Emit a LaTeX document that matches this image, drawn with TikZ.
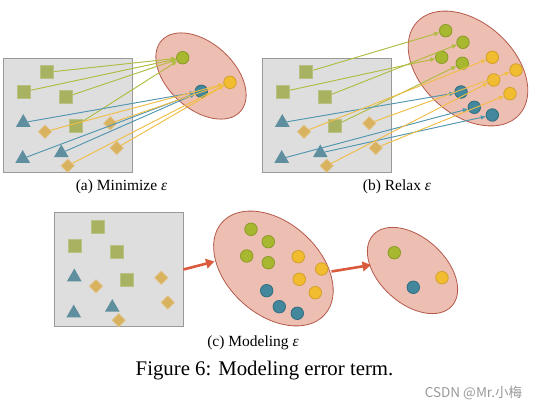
\documentclass[tikz,border=0pt]{standalone}
\usepackage{fontspec}
\setmainfont{Liberation Serif}
\newfontfamily\cjk{Noto Sans CJK SC}
\usetikzlibrary{shapes.geometric,arrows.meta}
\definecolor{boxfill}{HTML}{DEDEDE}
\definecolor{boxdraw}{HTML}{9A9A9A}
\definecolor{sqfill}{HTML}{A8B260}
\definecolor{sqdraw}{HTML}{BAC184}
\definecolor{trifill}{HTML}{5F8F9E}
\definecolor{diafill}{HTML}{D8B25F}
\definecolor{diadraw}{HTML}{E2C385}
\definecolor{gfill}{HTML}{A7B830}
\definecolor{gdraw}{HTML}{8C9B28}
\definecolor{yfill}{HTML}{F2BC30}
\definecolor{ydraw}{HTML}{D2A028}
\definecolor{bfill}{HTML}{42879B}
\definecolor{bdraw}{HTML}{326E82}
\definecolor{ellfill}{HTML}{EDBEB2}
\definecolor{elldraw}{HTML}{B45A4B}
\definecolor{gline}{HTML}{B0BC40}
\definecolor{bline}{HTML}{5096AF}
\definecolor{yline}{HTML}{F0BE46}
\definecolor{redarr}{HTML}{D95A3C}
\definecolor{wmark}{HTML}{9A9A9A}
\tikzset{
  panelbox/.style={rectangle, fill=boxfill, draw=boxdraw, line width=0.8pt, minimum width=129pt, minimum height=114pt, inner sep=0pt},
  sq/.style={rectangle, fill=sqfill, draw=sqdraw, line width=0.7pt, minimum size=13pt, inner sep=0pt},
  tri/.style={regular polygon, regular polygon sides=3, fill=trifill, minimum size=17pt, inner sep=0pt},
  dia/.style={diamond, fill=diafill, draw=diadraw, line width=0.7pt, minimum size=13.5pt, inner sep=0pt},
  dot/.style={circle, minimum size=12.5pt, inner sep=0pt, line width=0.8pt},
  gdot/.style={dot, fill=gfill, draw=gdraw},
  ydot/.style={dot, fill=yfill, draw=ydraw},
  bdot/.style={dot, fill=bfill, draw=bdraw},
  blob/.style={ellipse, fill=ellfill, draw=elldraw, line width=0.8pt, rotate=-42, inner sep=0pt},
  smallblob/.style={blob, minimum width=106pt, minimum height=66pt},
  bigblob/.style={blob, minimum width=138pt, minimum height=92pt},
  tip/.style={-{Triangle[length=5pt,width=4pt]}},
  gl/.style={tip, draw=gline, fill=gline, line width=0.9pt},
  bl/.style={tip, draw=bline, fill=bline, line width=0.9pt},
  yl/.style={tip, draw=yline, fill=yline, line width=0.9pt},
  bigarr/.style={draw=redarr, line width=2.6pt, -{Triangle[length=8.5pt,width=9.5pt]}},
  subcap/.style={font=\fontsize{15.5}{18}\selectfont, inner sep=0pt},
}
\newcommand\panelshapes[1]{%
  \node[panelbox] (#1box) at (67.5,115) {};
  \node[sq] (#1s1) at (47.3,72.3) {};
  \node[sq] (#1s2) at (24,91.7) {};
  \node[sq] (#1s3) at (66,97) {};
  \node[sq] (#1s4) at (75.7,125.7) {};
  \node[tri] (#1t1) at (23.3,122.6) {};
  \node[tri] (#1t2) at (22.7,158.6) {};
  \node[tri] (#1t3) at (61.3,153) {};
  \node[dia] (#1d1) at (45,131.7) {};
  \node[dia] (#1d2) at (110.3,123.3) {};
  \node[dia] (#1d3) at (116.7,148) {};
  \node[dia] (#1d4) at (67.7,165.7) {};
}
\begin{document}
\begin{tikzpicture}[x=1pt,y=-1pt]
\useasboundingbox (0,0) rectangle (542,409);
\fill[white] (0,0) rectangle (542,409);
% ---------- panel (a)
\panelshapes{a}
\node[smallblob] (ella) at (201,76) {};
\node[gdot] (ag) at (182.7,57.7) {};
\node[bdot] (ab) at (201.3,91.3) {};
\node[ydot] (ay) at (230,82.3) {};
\foreach \s in {1,2,3,4} \draw[gl] (as\s) -- (ag);
\foreach \s in {1,2,3} \draw[bl] (at\s) -- (ab);
\foreach \s in {1,2,3,4} \draw[yl] (ad\s) -- (ay);
\node[subcap] (capa) at (121.5,187) {(a) Minimize \textit{ε}};
% ---------- panel (b)
\begin{scope}[shift={(259,0)}]
\panelshapes{b}
\end{scope}
\node[bigblob] (ellb) at (468,68.5) {};
\node[gdot] (bg1) at (445.7,30.7) {};
\node[gdot] (bg2) at (463,42.3) {};
\node[gdot] (bg3) at (441.7,57.3) {};
\node[gdot] (bg4) at (462.3,63.3) {};
\node[ydot] (by1) at (492.3,57.3) {};
\node[ydot] (by2) at (516,70) {};
\node[ydot] (by3) at (493.7,80) {};
\node[ydot] (by4) at (510,93.7) {};
\node[bdot] (bb1) at (461,92) {};
\node[bdot] (bb2) at (474.3,107.3) {};
\node[bdot] (bb3) at (492.3,115) {};
\draw[gl] (bs1) -- (bg1);
\draw[gl] (bs2) -- (bg3);
\draw[gl] (bs3) -- (bg2);
\draw[gl] (bs4) -- (bg4);
\draw[bl] (bt1) -- (bb1);
\draw[bl] (bt2) -- (bb2);
\draw[bl] (bt3) -- (bb3);
\draw[yl] (bd1) -- (by1);
\draw[yl] (bd2) -- (by2);
\draw[yl] (bd3) -- (by4);
\draw[yl] (bd4) -- (by3);
\node[subcap] (capb) at (397,187) {(b) Relax \textit{ε}};
% ---------- panel (c)
\begin{scope}[shift={(51,154.5)}]
\panelshapes{c}
\end{scope}
\node[bigblob] (ellc) at (273.4,268.5) {};
\node[gdot] (cg1) at (251,229.3) {};
\node[gdot] (cg2) at (268.3,241.7) {};
\node[gdot] (cg3) at (246.7,256) {};
\node[gdot] (cg4) at (268.3,262.7) {};
\node[ydot] (cy1) at (298.3,256.7) {};
\node[ydot] (cy2) at (321.7,269) {};
\node[ydot] (cy3) at (299.3,279.3) {};
\node[ydot] (cy4) at (315.3,292.7) {};
\node[bdot] (cb1) at (266.7,290.7) {};
\node[bdot] (cb2) at (279.3,306.7) {};
\node[bdot] (cb3) at (297.3,313.3) {};
\node[smallblob] (elld) at (412.5,270.5) {};
\node[gdot] (dg) at (394.3,252.7) {};
\node[bdot] (db) at (413.3,287.3) {};
\node[ydot] (dy) at (442,277.7) {};
\coordinate (cin) at (214.5,261.5);
\coordinate (cout) at (331.5,271.5);
\coordinate (din) at (371,265);
\draw[bigarr] (cbox.east) -- (cin);
\draw[bigarr] (cout) -- (din);
\node[subcap] (capc) at (253,343) {(c) Modeling \textit{ε}};
% ---------- caption
\node[font=\fontsize{20.8}{24}\selectfont, inner sep=0pt] (fig) at (264.5,371) {Figure 6: Modeling error term.};
\node[font=\cjk\fontsize{13.5}{15}\selectfont, text=wmark, inner sep=0pt] (wm) at (473.5,392.5) {CSDN @Mr.小梅};
\end{tikzpicture}
\end{document}
